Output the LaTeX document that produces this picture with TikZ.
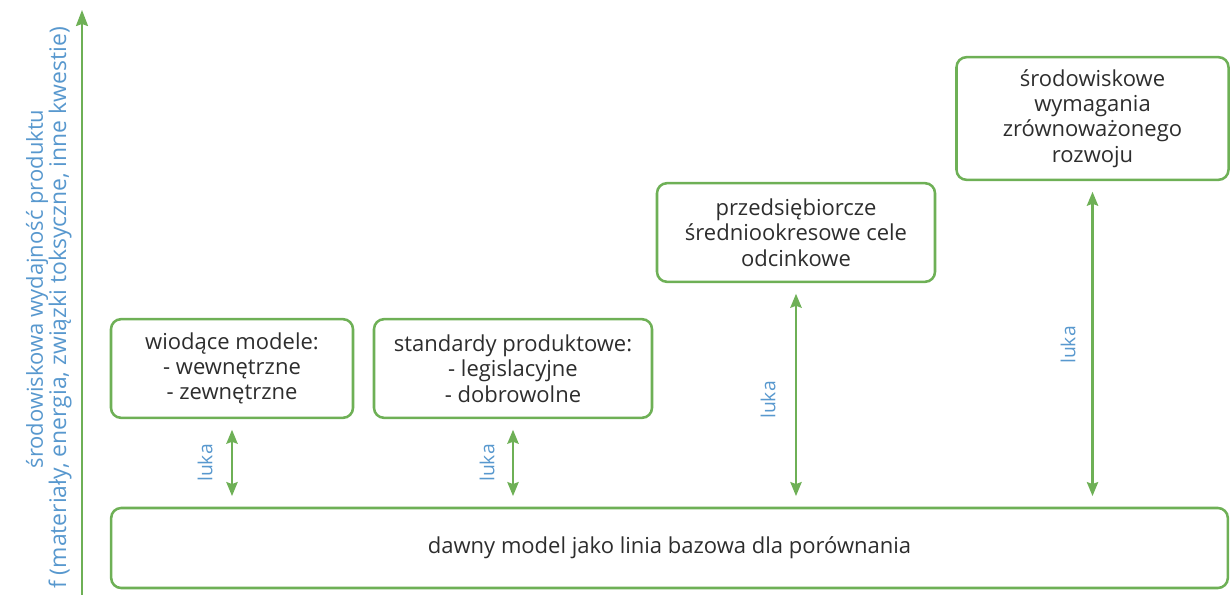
\documentclass[tikz,border=0pt]{standalone}
\usepackage{fontspec}
\setmainfont{Open Sans}
\usetikzlibrary{arrows.meta}
\definecolor{linegreen}{RGB}{110,176,86}
\definecolor{labelblue}{RGB}{88,152,206}
\definecolor{textgray}{RGB}{45,45,45}
\tikzset{
  box/.style={draw=linegreen, line width=1.9pt, rounded corners=7.5pt,
    align=center, text=textgray, font=\fontsize{16.5}{19}\selectfont,
    inner sep=0pt},
  gap/.style={linegreen, line width=1.6pt,
    {Stealth[length=10.5pt,width=8.5pt,inset=1.5pt]}-{Stealth[length=10.5pt,width=8.5pt,inset=1.5pt]},
    shorten <=8pt, shorten >=8pt},
  gaplabel/.style={text=labelblue, rotate=90, font=\fontsize{14.5}{16}\selectfont},
  axislabel/.style={text=labelblue, rotate=90, font=\fontsize{16.5}{19}\selectfont, anchor=center}
}
\begin{document}
\begin{tikzpicture}[x=0.75pt,y=-0.75pt]
\useasboundingbox (0,0) rectangle (1230,595);
\begin{scope}
\clip (0,0) rectangle (1230,595);

% vertical axis
\coordinate (axisbot) at (82,595);
\coordinate (axistop) at (82,10);
\draw[linegreen, line width=1.6pt, -{Stealth[length=12pt,width=9pt,inset=1.5pt]}] (axisbot) -- (axistop);
\node[axislabel] (ax1) at (37,289) {środowiskowa wydajność produktu};
\node[axislabel, font=\fontsize{17.2}{19}\selectfont] (ax2) at (60,308)
  {f (materiały, energia, związki toksyczne, inne kwestie)};

% boxes
\node[box, minimum width=181.5pt, minimum height=74pt] (lead) at (232,368.5)
  {wiodące modele:\\- wewnętrzne\\- zewnętrzne};
\node[box, minimum width=208.5pt, minimum height=74pt] (std) at (513,368.5)
  {standardy produktowe:\\- legislacyjne\\- dobrowolne};
\node[box, minimum width=208.5pt, minimum height=74pt] (corp) at (796,232.5)
  {przedsiębiorcze\\średniookresowe cele\\odcinkowe};
\node[box, minimum width=204pt, minimum height=92pt] (env) at (1092.5,118.5)
  {środowiskowe\\wymagania\\zrównoważonego\\rozwoju};
\node[box, minimum width=837.5pt, minimum height=60pt] (base) at (669.5,548)
  {dawny model jako linia bazowa dla porównania};

% gaps
\draw[gap] (lead.south) -- (lead.south |- base.north);
\draw[gap] (std.south) -- (std.south |- base.north);
\draw[gap] (corp.south) -- (corp.south |- base.north);
\draw[gap] (env.south) -- (env.south |- base.north);

\node[gaplabel] (l1) at (205,463) {luka};
\node[gaplabel] (l2) at (487,463) {luka};
\node[gaplabel] (l3) at (768,400) {luka};
\node[gaplabel] (l4) at (1068,345) {luka};
\end{scope}
\end{tikzpicture}
\end{document}
